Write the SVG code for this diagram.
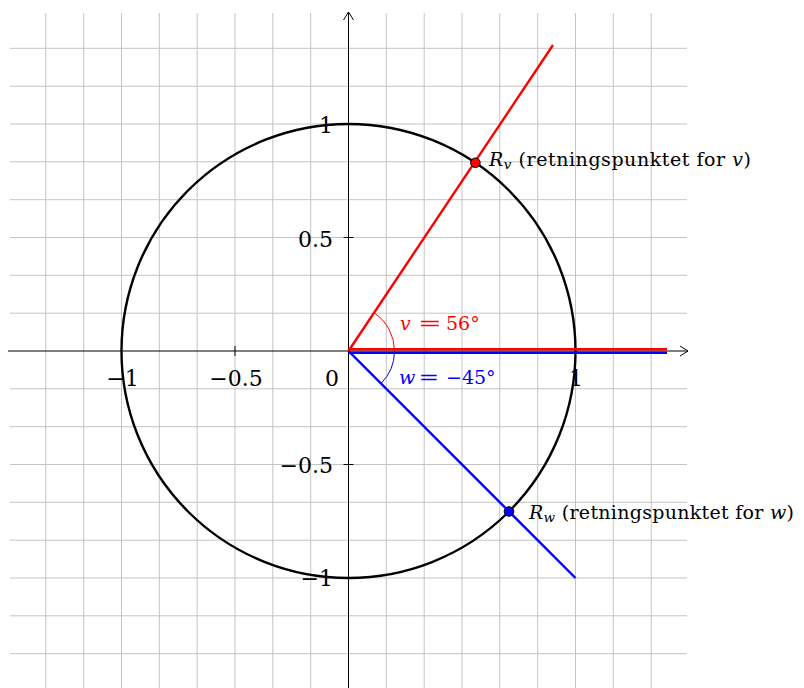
<svg xmlns="http://www.w3.org/2000/svg" width="804" height="688" viewBox="0 0 804 688">
<style>
.grid{stroke:#c4c4c4;stroke-width:1;fill:none}
.axis{stroke:#000;stroke-width:1;fill:none}
.tick{font-family:"DejaVu Serif","Liberation Serif",serif;font-size:22px;fill:#000}
.lbl{font-family:"DejaVu Serif","Liberation Serif",serif;font-size:19px;fill:#000}
.it{font-style:italic}
</style>
<defs>
<marker id="arr" markerWidth="12" markerHeight="12" refX="10" refY="6" orient="auto" markerUnits="userSpaceOnUse">
<path d="M2,1 L10,6 L2,11" fill="none" stroke="#000" stroke-width="1"/>
</marker>
</defs>
<rect width="804" height="688" fill="#fff"/>
<g id="grid">
<path class="grid" d="M45.8,13V688 M83.7,13V688 M121.5,13V688 M159.3,13V688 M197.2,13V688 M235,13V688 M272.8,13V688 M310.7,13V688 M386.3,13V688 M424.2,13V688 M462,13V688 M499.8,13V688 M537.7,13V688 M575.5,13V688 M613.3,13V688 M651.2,13V688
M10,48.3H687 M10,86.2H687 M10,124H687 M10,161.8H687 M10,199.7H687 M10,237.5H687 M10,275.3H687 M10,313.2H687 M10,388.8H687 M10,426.7H687 M10,464.5H687 M10,502.3H687 M10,540.2H687 M10,578H687 M10,615.8H687 M10,653.7H687"/>
</g>
<g id="axes">
<line class="axis" x1="8" y1="351" x2="688" y2="351" marker-end="url(#arr)"/>
<line class="axis" x1="348.5" y1="688" x2="348.5" y2="12" marker-end="url(#arr)"/>
<path class="axis" d="M121.5,346V356 M235,346V356 M575.5,346V356 M343.5,124H353.5 M343.5,237.5H353.5 M343.5,464.5H353.5 M343.5,578H353.5"/>
</g>
<g id="tick-labels">
<text class="tick" x="122.5" y="386" text-anchor="middle">−1</text>
<text class="tick" x="236" y="386" text-anchor="middle">−0.5</text>
<text class="tick" x="339" y="386" text-anchor="end">0</text>
<text class="tick" x="576" y="386" text-anchor="middle">1</text>
<text class="tick" x="333" y="133" text-anchor="end">1</text>
<text class="tick" x="333" y="247" text-anchor="end">0.5</text>
<text class="tick" x="333" y="473" text-anchor="end">−0.5</text>
<text class="tick" x="333" y="586" text-anchor="end">−1</text>
</g>
<g id="unit-circle">
<circle cx="348.5" cy="351" r="227" fill="none" stroke="#000" stroke-width="2.4"/>
</g>
<g id="connectors">
<line x1="348.5" y1="351" x2="553" y2="45" stroke="#f00" stroke-width="2.4"/>
<line x1="348.5" y1="351" x2="575.5" y2="578" stroke="#00f" stroke-width="2.4"/>
<line x1="348.5" y1="349.3" x2="667" y2="349.3" stroke="#f00" stroke-width="2.6"/>
<line x1="348.5" y1="352.8" x2="667" y2="352.8" stroke="#00f" stroke-width="2.6"/>
<path d="M394.5,351 A46,46 0 0 0 374.2,312.9" fill="none" stroke="#f00" stroke-width="1"/>
<path d="M394.5,351 A46,46 0 0 1 381,383.5" fill="none" stroke="#00f" stroke-width="1"/>
</g>
<g id="angle-v">
<text class="lbl" y="330" style="fill:#f00"><tspan class="it" x="400">v</tspan><tspan x="446">56°</tspan></text>
<text class="lbl" transform="translate(418,330) scale(1.5,1)" style="fill:#f00">=</text>
</g>
<g id="angle-w">
<text class="lbl" y="384" style="fill:#00f"><tspan class="it" x="399">w</tspan><tspan x="446">−45°</tspan></text>
<text class="lbl" transform="translate(418.5,384) scale(1.3,1)" style="fill:#00f">=</text>
</g>
<g id="point-Rv">
<circle cx="475.4" cy="162.8" r="4.8" fill="#f00" stroke="#000" stroke-width="1"/>
<text class="lbl" x="489" y="166" textLength="262"><tspan class="it">R</tspan><tspan class="it" font-size="13.5" dy="3">v</tspan><tspan dy="-3"> (retningspunktet for </tspan><tspan class="it">v</tspan>)</text>
</g>
<g id="point-Rw">
<circle cx="509" cy="511.5" r="4.8" fill="#00f" stroke="#000" stroke-width="1"/>
<text class="lbl" x="529" y="519" textLength="265"><tspan class="it">R</tspan><tspan class="it" font-size="13.5" dy="3">w</tspan><tspan dy="-3"> (retningspunktet for </tspan><tspan class="it">w</tspan>)</text>
</g>
</svg>
